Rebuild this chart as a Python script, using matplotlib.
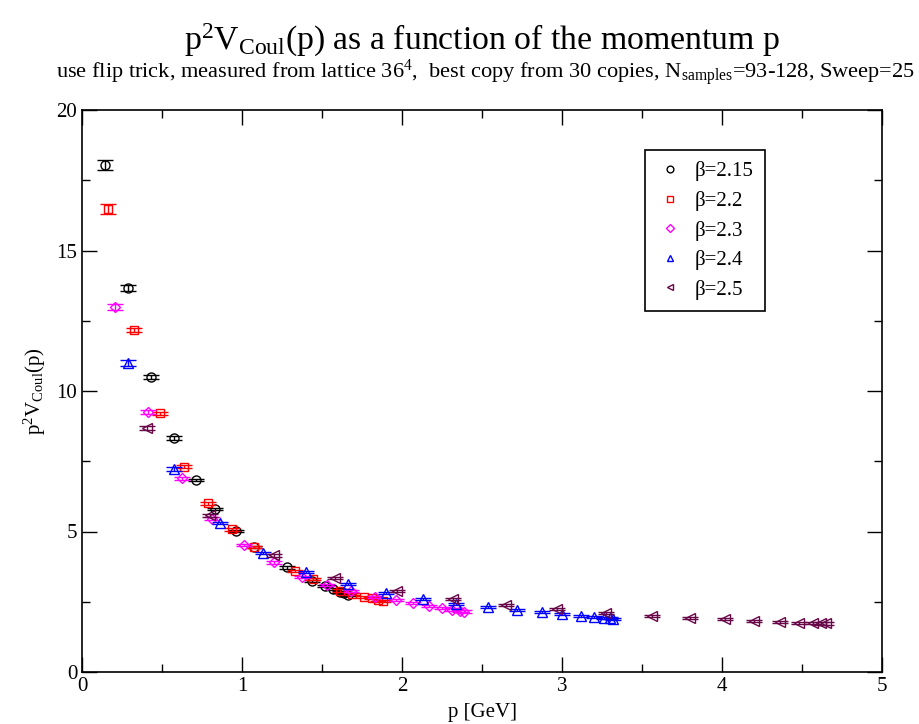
import matplotlib
matplotlib.use("Agg")
import matplotlib.pyplot as plt
from matplotlib.ticker import MultipleLocator

plt.rcParams['font.family'] = ['Liberation Serif', 'DejaVu Serif']
plt.rcParams['mathtext.fontset'] = 'custom'
plt.rcParams['mathtext.rm'] = 'Liberation Serif'
plt.rcParams['mathtext.it'] = 'Liberation Serif:italic'

# data
p_215 = [0.144, 0.29, 0.43, 0.575, 0.71, 0.83, 0.96, 1.075, 1.28, 1.44, 1.52, 1.57, 1.61, 1.64, 1.66]
v_215 = [18.04, 13.67, 10.5, 8.33, 6.83, 5.8, 5.02, 4.45, 3.72, 3.24, 3.06, 2.95, 2.85, 2.81, 2.74]
e_215 = [0.18, 0.1, 0.07, 0.06, 0.05, 0.05, 0.05, 0.04, 0.04, 0.04, 0.04, 0.04, 0.04, 0.04, 0.04]

p_22 = [0.16, 0.325, 0.49, 0.64, 0.79, 0.94, 1.075, 1.33, 1.445, 1.61, 1.69, 1.76, 1.81, 1.85, 1.88]
v_22 = [16.48, 12.17, 9.2, 7.3, 6.0, 5.08, 4.45, 3.6, 3.3, 2.9, 2.77, 2.68, 2.63, 2.58, 2.53]
e_22 = [0.18, 0.08, 0.06, 0.05, 0.05, 0.05, 0.04, 0.04, 0.04, 0.04, 0.04, 0.04, 0.04, 0.04, 0.04]

p_23 = [0.206, 0.41, 0.625, 0.81, 1.01, 1.2, 1.375, 1.53, 1.68, 1.83, 1.96, 2.07, 2.17, 2.25, 2.31, 2.36, 2.39]
v_23 = [13.0, 9.25, 6.9, 5.45, 4.52, 3.9, 3.38, 3.1, 2.88, 2.67, 2.56, 2.46, 2.35, 2.28, 2.22, 2.18, 2.15]
e_23 = [0.1, 0.06, 0.05, 0.05, 0.04, 0.04, 0.04, 0.04, 0.04, 0.04, 0.04, 0.04, 0.04, 0.04, 0.04, 0.04, 0.04]

p_24 = [0.29, 0.575, 0.86, 1.13, 1.4, 1.66, 1.9, 2.13, 2.34, 2.54, 2.72, 2.875, 3.0, 3.12, 3.2, 3.26, 3.3, 3.32]
v_24 = [11.0, 7.22, 5.3, 4.23, 3.55, 3.13, 2.81, 2.6, 2.42, 2.31, 2.2, 2.13, 2.06, 2.0, 1.96, 1.93, 1.91, 1.89]
e_24 = [0.1, 0.06, 0.05, 0.04, 0.04, 0.04, 0.04, 0.04, 0.04, 0.04, 0.04, 0.04, 0.04, 0.04, 0.04, 0.04, 0.04, 0.04]

p_25 = [0.405, 0.8, 1.2, 1.58, 1.97, 2.32, 2.65, 2.97, 3.275, 3.56, 3.8, 4.02, 4.2, 4.36, 4.48, 4.57, 4.62, 4.65]
v_25 = [8.68, 5.58, 4.15, 3.35, 2.89, 2.6, 2.38, 2.24, 2.1, 2.0, 1.92, 1.88, 1.82, 1.78, 1.75, 1.75, 1.73, 1.73]
e_25 = [0.08, 0.06, 0.05, 0.04, 0.04, 0.04, 0.04, 0.04, 0.04, 0.04, 0.04, 0.04, 0.04, 0.04, 0.04, 0.04, 0.04, 0.04]

series = [
    (p_215, v_215, e_215, 'o', 'black', 6.5, 'β=2.15'),
    (p_22, v_22, e_22, 's', 'red', 5.5, 'β=2.2'),
    (p_23, v_23, e_23, 'D', '#ff00ff', 5.0, 'β=2.3'),
    (p_24, v_24, e_24, '^', 'blue', 6.5, 'β=2.4'),
    (p_25, v_25, e_25, '<', '#670748', 6.5, 'β=2.5'),
]

fig = plt.figure(figsize=(9.19, 7.24), dpi=100)
ax = fig.add_axes([82 / 919, 52 / 724, 800 / 919, 562 / 724])

handles = []
for p, v, e, m, c, ms, lab in series:
    ax.errorbar(p, v, yerr=e, fmt='none', ecolor=c, elinewidth=1, capsize=5.8, capthick=1)
    h, = ax.plot(p, v, ls='none', marker=m, ms=ms, mfc='none', mec=c, mew=1, label=lab)
    handles.append(h)

ax.set_xlim(0, 5)
ax.set_ylim(0, 20)
ax.xaxis.set_major_locator(MultipleLocator(1))
ax.xaxis.set_minor_locator(MultipleLocator(0.5))
ax.yaxis.set_major_locator(MultipleLocator(5))
ax.yaxis.set_minor_locator(MultipleLocator(2.5))
ax.tick_params(which='both', direction='in', top=True, right=True, width=1, labelsize=15)
ax.tick_params(which='major', length=11)
ax.tick_params(which='minor', length=5.5)
for s in ax.spines.values():
    s.set_linewidth(1.2)

ax.set_xlabel('p [GeV]', fontsize=15, labelpad=5)
ax.set_ylabel(r'$\mathrm{p^2V_{Coul}(p)}$', fontsize=15, labelpad=6)

fig.text(482 / 919, 1 - 50 / 724, r'$\mathrm{p^2V_{Coul}}$(p) as a function of the momentum p',
         ha='center', va='baseline', fontsize=24.3)
fig.text(485 / 919, 1 - 78 / 724,
         r'use flip trick, measured from lattice 36$^4$,  best copy from 30 copies, N$_{\mathrm{samples}}$=93-128, Sweep=25',
         ha='center', va='baseline', fontsize=16.1)

leg = ax.legend(handles=handles, loc='upper left', bbox_to_anchor=(645 / 919, 1 - 150 / 724),
                bbox_transform=fig.transFigure, fontsize=15, markerscale=0.75, frameon=True,
                fancybox=False, framealpha=1, edgecolor='black', borderpad=0.55,
                handlelength=1.3, handletextpad=0.55, labelspacing=0.46, borderaxespad=0)
leg.get_frame().set_linewidth(1.2)

fig.savefig('out.png', dpi=100)
